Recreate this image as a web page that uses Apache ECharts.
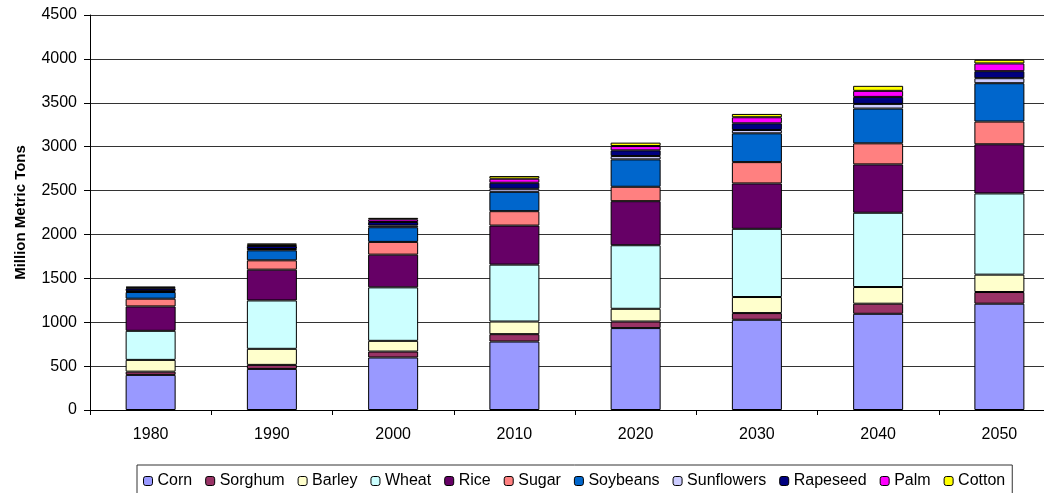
<!DOCTYPE html>
<html>
<head>
<meta charset="utf-8">
<script src="https://cdn.jsdelivr.net/npm/echarts@6/dist/echarts.min.js"></script>
<style>
  html, body { margin: 0; padding: 0; background: #fff; overflow: hidden; }
  /* 图表比窗口略宽，右侧被裁掉，和原图一致 */
  #chart { width: 1064px; height: 493px; }
</style>
</head>
<body>
<div id="chart"></div>
<script>
// 年份（类目轴）
const years = ["1980", "1990", "2000", "2010", "2020", "2030", "2040", "2050"];

// 各作物产量，单位：百万公吨
const corn = [400, 468, 598, 780, 933, 1028, 1096, 1211];
const sorghum = [37, 46, 68, 84, 75, 76, 115, 133];
const barley = [134, 183, 122, 144, 145, 183, 190, 198];
const wheat = [331, 551, 609, 648, 724, 777, 846, 925];
const rice = [278, 351, 373, 445, 502, 517, 551, 560];
const sugar = [88, 106, 145, 164, 164, 243, 240, 259];
const soybeans = [76, 114, 167, 221, 312, 328, 396, 437];
const sunflowers = [10, 15, 20, 34, 38, 38, 53, 57];
const rapeseed = [30, 35, 40, 69, 65, 76, 80, 80];
const palm = [10, 15, 30, 46, 49, 69, 69, 88];
const cotton = [11, 12, 17, 30, 39, 38, 57, 42];

// y轴刻度
const yTicks = [0, 500, 1000, 1500, 2000, 2500, 3000, 3500, 4000, 4500];

// 系列名称、数据和颜色
const seriesNames = ["Corn", "Sorghum", "Barley", "Wheat", "Rice", "Sugar",
  "Soybeans", "Sunflowers", "Rapeseed", "Palm", "Cotton"];
const seriesData = [corn, sorghum, barley, wheat, rice, sugar,
  soybeans, sunflowers, rapeseed, palm, cotton];
const colors = ["#9999ff", "#993366", "#ffffcc", "#ccffff", "#660066", "#ff8080",
  "#0066cc", "#ccccff", "#000080", "#ff00ff", "#ffff00"];

const font = "Liberation Sans, Arial, sans-serif";

const chart = echarts.init(document.getElementById("chart"));

const option = {
  animation: false,
  color: colors,
  textStyle: { fontFamily: font },
  grid: {
    left: 90,
    top: 15,
    width: 970,
    height: 395,
  },
  legend: {
    left: 137,
    top: 465,
    itemWidth: 9,
    itemHeight: 9,
    itemGap: 13,
    padding: [8, 7, 10, 6],
    borderColor: "#333",
    borderWidth: 1,
    textStyle: { fontSize: 16, color: "#000", fontFamily: font },
    itemStyle: { borderColor: "#000", borderWidth: 1 },
    data: seriesNames,
  },
  xAxis: {
    type: "category",
    data: years,
    axisLine: { lineStyle: { color: "#000", width: 1 } },
    axisTick: { show: true, length: 5, lineStyle: { color: "#000" } },
    axisLabel: { color: "#000", fontSize: 16, margin: 17 },
  },
  yAxis: {
    type: "value",
    min: yTicks[0],
    max: yTicks[yTicks.length - 1],
    interval: 500,
    name: "Million Metric Tons",
    nameLocation: "middle",
    nameGap: 62,
    nameTextStyle: { fontSize: 15, fontWeight: "bold", color: "#000" },
    axisLine: { show: true, lineStyle: { color: "#000", width: 1 } },
    axisTick: { show: true, length: 6, lineStyle: { color: "#000" } },
    axisLabel: {
      color: "#000",
      fontSize: 16,
      margin: 13,
      formatter: (v) => String(v),
    },
    splitLine: { lineStyle: { color: "#333", width: 1 } },
  },
  series: seriesNames.map((name, i) => ({
    name: name,
    type: "bar",
    stack: "total",
    barWidth: 50,
    data: seriesData[i],
    itemStyle: { borderColor: "#000", borderWidth: 1 },
  })),
};

chart.setOption(option);
</script>
</body>
</html>
